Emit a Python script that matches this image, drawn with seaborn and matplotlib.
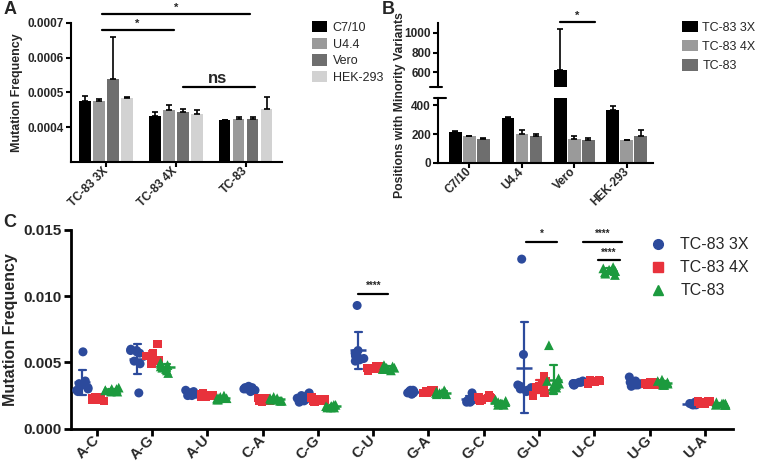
import numpy as np
import pandas as pd
import matplotlib
matplotlib.use("Agg")
import matplotlib.pyplot as plt
import seaborn as sns
from matplotlib.lines import Line2D
from matplotlib.patches import Patch

sns.set_theme(style="ticks")
plt.rcParams['font.family'] = ['Liberation Sans', 'DejaVu Sans']
plt.rcParams['font.weight'] = 'bold'

# ---------------- Panel A data ----------------
a_groups = ["TC-83 3X", "TC-83 4X", "TC-83"]
a_cells = ["C7/10", "U4.4", "Vero", "HEK-293"]
a_c710 = [0.000477, 0.000434, 0.000421]
a_u44 = [0.000476, 0.000450, 0.000425]
a_vero = [0.000539, 0.000444, 0.000425]
a_hek = [0.000484, 0.000438, 0.000454]
a_c710_top = [0.000490, 0.000443, 0.000422]
a_u44_top = [0.000481, 0.000465, 0.000431]
a_vero_top = [0.000659, 0.000452, 0.000431]
a_hek_top = [0.000488, 0.000450, 0.000487]
a_colors = ["#000000", "#9a9a9a", "#6e6e6e", "#d2d2d2"]

# ---------------- Panel B data ----------------
b_cells = ["C7/10", "U4.4", "Vero", "HEK-293"]
b_strains = ["TC-83 3X", "TC-83 4X", "TC-83"]
b_3x = [217, 313, 620, 370]
b_4x = [184, 200, 165, 158]
b_tc83 = [168, 188, 160, 190]
b_3x_top = [221, 315, 1037, 396]
b_4x_top = [189, 226, 184, 161]
b_tc83_top = [172, 202, 170, 226]
b_colors = ["#000000", "#9a9a9a", "#6e6e6e"]

# ---------------- Panel C data ----------------
c_muts = ["A-C", "A-G", "A-U", "C-A", "C-G", "C-U", "G-A", "G-C", "G-U", "U-C", "U-G", "U-A"]
c_strains = ["TC-83 3X", "TC-83 4X", "TC-83"]
c_3x = {
    "A-C": [0.0058, 0.0036, 0.0034, 0.0033, 0.0031, 0.0030, 0.0029, 0.0028],
    "A-G": [0.0060, 0.0059, 0.0059, 0.0058, 0.0057, 0.0051, 0.0049, 0.0027],
    "A-U": [0.0029, 0.0028, 0.0027, 0.0027, 0.0026, 0.0026, 0.0025, 0.0025],
    "C-A": [0.0032, 0.0031, 0.0031, 0.0030, 0.0030, 0.0029, 0.0029, 0.0028],
    "C-G": [0.0027, 0.0026, 0.0025, 0.0023, 0.0022, 0.0021, 0.0021, 0.0020],
    "C-U": [0.0093, 0.0059, 0.0057, 0.0055, 0.0054, 0.0053, 0.0052, 0.0051],
    "G-A": [0.0029, 0.0029, 0.0028, 0.0028, 0.0028, 0.0027, 0.0027, 0.0026],
    "G-C": [0.0027, 0.0025, 0.0023, 0.0022, 0.0021, 0.0021, 0.0020, 0.0020],
    "G-U": [0.0128, 0.0056, 0.0033, 0.0032, 0.0031, 0.0030, 0.0029, 0.0028],
    "U-C": [0.0036, 0.0035, 0.0035, 0.0034, 0.0034, 0.0034, 0.0033, 0.0033],
    "U-G": [0.0039, 0.0036, 0.0035, 0.0034, 0.0034, 0.0033, 0.0033, 0.0032],
    "U-A": [0.0020, 0.0020, 0.0019, 0.0019, 0.0019, 0.0018, 0.0018, 0.0018],
}
c_4x = {
    "A-C": [0.0024, 0.0024, 0.0023, 0.0023, 0.0022, 0.0022, 0.0022, 0.0021],
    "A-G": [0.0064, 0.0057, 0.0055, 0.0054, 0.0052, 0.0051, 0.0050, 0.0049],
    "A-U": [0.0027, 0.0026, 0.0026, 0.0025, 0.0025, 0.0024, 0.0024, 0.0024],
    "C-A": [0.0023, 0.0023, 0.0022, 0.0022, 0.0021, 0.0021, 0.0021, 0.0020],
    "C-G": [0.0024, 0.0023, 0.0023, 0.0022, 0.0022, 0.0021, 0.0021, 0.0020],
    "C-U": [0.0047, 0.0047, 0.0046, 0.0046, 0.0045, 0.0045, 0.0045, 0.0044],
    "G-A": [0.0029, 0.0029, 0.0028, 0.0028, 0.0028, 0.0027, 0.0027, 0.0027],
    "G-C": [0.0025, 0.0024, 0.0024, 0.0023, 0.0023, 0.0022, 0.0022, 0.0021],
    "G-U": [0.0040, 0.0036, 0.0034, 0.0032, 0.0031, 0.0030, 0.0027, 0.0025],
    "U-C": [0.0037, 0.0037, 0.0036, 0.0036, 0.0035, 0.0035, 0.0035, 0.0034],
    "U-G": [0.0035, 0.0035, 0.0034, 0.0034, 0.0034, 0.0033, 0.0033, 0.0033],
    "U-A": [0.0021, 0.0021, 0.0021, 0.0020, 0.0020, 0.0020, 0.0019, 0.0019],
}
c_tc83 = {
    "A-C": [0.0031, 0.0030, 0.0030, 0.0029, 0.0029, 0.0029, 0.0028, 0.0028],
    "A-G": [0.0050, 0.0049, 0.0048, 0.0047, 0.0046, 0.0045, 0.0044, 0.0042],
    "A-U": [0.0025, 0.0024, 0.0024, 0.0023, 0.0023, 0.0023, 0.0022, 0.0022],
    "C-A": [0.0024, 0.0023, 0.0023, 0.0022, 0.0022, 0.0022, 0.0021, 0.0021],
    "C-G": [0.0018, 0.0018, 0.0017, 0.0017, 0.0017, 0.0016, 0.0016, 0.0016],
    "C-U": [0.0048, 0.0047, 0.0047, 0.0046, 0.0046, 0.0045, 0.0045, 0.0044],
    "G-A": [0.0029, 0.0028, 0.0028, 0.0027, 0.0027, 0.0027, 0.0026, 0.0026],
    "G-C": [0.0022, 0.0021, 0.0020, 0.0020, 0.0019, 0.0019, 0.0018, 0.0018],
    "G-U": [0.0063, 0.0038, 0.0036, 0.0034, 0.0033, 0.0032, 0.0031, 0.0030],
    "U-C": [0.0122, 0.0121, 0.0120, 0.0119, 0.0119, 0.0118, 0.0117, 0.0116],
    "U-G": [0.0037, 0.0036, 0.0035, 0.0035, 0.0034, 0.0034, 0.0033, 0.0033],
    "U-A": [0.0020, 0.0019, 0.0019, 0.0019, 0.0018, 0.0018, 0.0018, 0.0018],
}
c_colors = ["#2c4a9c", "#e8323c", "#1c9a3e"]
c_markers = ["o", "s", "^"]
c_sizes = [6.5, 6.0, 7.0]

fig = plt.figure(figsize=(7.6, 4.7), dpi=100)

def style_axis(ax, lw, fs, ticklen):
    for s in ["top", "right"]:
        ax.spines[s].set_visible(False)
    for s in ["left", "bottom"]:
        ax.spines[s].set_linewidth(lw)
        ax.spines[s].set_color("black")
    ax.tick_params(axis="both", width=lw, length=ticklen, color="black",
                   labelsize=fs, pad=1.5)
    for lab in ax.get_xticklabels() + ax.get_yticklabels():
        lab.set_fontweight("bold")

# ================= Panel A =================
axA = fig.add_axes([0.0934, 0.6547, 0.2776, 0.297])
dfA = pd.DataFrame({
    "group": a_groups * 4,
    "cell": np.repeat(a_cells, 3),
    "val": a_c710 + a_u44 + a_vero + a_hek,
})
a_tops = [a_c710_top, a_u44_top, a_vero_top, a_hek_top]
sns.barplot(data=dfA, x="group", y="val", hue="cell", order=a_groups,
            hue_order=a_cells, palette=a_colors, errorbar=None, saturation=1,
            width=0.8, gap=0.17, legend=False, ax=axA, linewidth=0)
for cont, tops in zip(axA.containers, a_tops):
    for bar, top in zip(cont, tops):
        x = bar.get_x() + bar.get_width() / 2
        h = bar.get_height()
        axA.errorbar([x], [h], yerr=[[0], [top - h]], color="black",
                     capsize=2.5, elinewidth=1.2, capthick=1.2, zorder=3)
axA.set_ylim(0.0003, 0.0007)
axA.set_xlim(-0.5, 2.52)
axA.set_yticks([0.0004, 0.0005, 0.0006, 0.0007])
axA.set_yticklabels(["0.0004", "0.0005", "0.0006", "0.0007"])
axA.set_xlabel("")
axA.set_ylabel("Mutation Frequency", fontsize=9, fontweight="bold", labelpad=3)
style_axis(axA, 1.5, 8.5, 3.5)
plt.setp(axA.get_xticklabels(), rotation=45, ha="right", va="center",
         rotation_mode="anchor", fontsize=8.5)
# significance
axA.plot([-0.06, 2.06], [0.000724, 0.000724], color="black", lw=1.6, clip_on=False)
axA.text(1.0, 0.000727, "*", ha="center", va="bottom", fontsize=8, fontweight="bold")
axA.plot([-0.06, 0.97], [0.000678, 0.000678], color="black", lw=1.6, clip_on=False)
axA.text(0.45, 0.000681, "*", ha="center", va="bottom", fontsize=8, fontweight="bold")
axA.plot([1.1, 2.13], [0.000515, 0.000515], color="black", lw=1.6, clip_on=False)
axA.text(1.6, 0.00052, "ns", ha="center", va="bottom", fontsize=12, fontweight="bold")
hA = [Patch(facecolor=c, edgecolor="none") for c in a_colors]
legA = fig.legend(hA, a_cells, loc="upper left", bbox_to_anchor=(0.41, 0.955),
                  frameon=False, handlelength=1.25, handleheight=1.0,
                  labelspacing=0.3, handletextpad=0.45, borderaxespad=0,
                  borderpad=0, prop={"size": 9, "weight": "normal"})

# ================= Panel B =================
axBu = fig.add_axes([0.5763, 0.8149, 0.2829, 0.1362])
axBl = fig.add_axes([0.5763, 0.6532, 0.2829, 0.1383])
dfB = pd.DataFrame({
    "cell": b_cells * 3,
    "strain": np.repeat(b_strains, 4),
    "val": b_3x + b_4x + b_tc83,
})
b_tops = [b_3x_top, b_4x_top, b_tc83_top]
for ax in (axBu, axBl):
    sns.barplot(data=dfB, x="cell", y="val", hue="strain", order=b_cells,
                hue_order=b_strains, palette=b_colors, errorbar=None,
                saturation=1, width=0.8, gap=0.1, legend=False, ax=ax, linewidth=0)
    for cont, tops in zip(ax.containers, b_tops):
        for bar, top in zip(cont, tops):
            x = bar.get_x() + bar.get_width() / 2
            h = bar.get_height()
            ax.errorbar([x], [h], yerr=[[0], [top - h]], color="black",
                        capsize=2.5, elinewidth=1.2, capthick=1.2, zorder=3)
    ax.set_xlim(-0.6, 3.5)
    ax.set_xlabel("")
    ax.set_ylabel("")
axBu.set_ylim(450, 1100)
axBl.set_ylim(0, 450)
axBu.set_yticks([600, 800, 1000])
axBl.set_yticks([0, 200, 400])
style_axis(axBu, 1.5, 8.5, 3.5)
style_axis(axBl, 1.5, 8.5, 3.5)
axBu.spines["bottom"].set_visible(False)
axBu.tick_params(axis="x", bottom=False, labelbottom=False)
plt.setp(axBl.get_xticklabels(), rotation=45, ha="right", va="center",
         rotation_mode="anchor", fontsize=8.5)
axBu.plot([-0.035, 0.02], [0, 0], transform=axBu.transAxes, color="black",
          lw=1.5, clip_on=False)
axBl.plot([-0.02, 0.035], [1, 1], transform=axBl.transAxes, color="black",
          lw=1.5, clip_on=False)
vb0 = axBu.containers[0][2]
vb2 = axBu.containers[2][2]
x0 = vb0.get_x() + vb0.get_width() * 0.5
x1 = vb2.get_x() + vb2.get_width()
axBu.plot([x0, x1], [1110, 1110], color="black", lw=1.6, clip_on=False)
axBu.text((x0 + x1) / 2, 1125, "*", ha="center", va="bottom", fontsize=8,
          fontweight="bold")
fig.text(0.526, 0.776, "Positions with Minority Variants", rotation=90,
         ha="center", va="center", fontsize=8.8, fontweight="bold")
hB = [Patch(facecolor=c, edgecolor="none") for c in b_colors]
fig.legend(hB, b_strains, loc="upper left", bbox_to_anchor=(0.898, 0.955),
           frameon=False, handlelength=1.25, handleheight=1.0,
           labelspacing=0.5, handletextpad=0.35, borderaxespad=0, borderpad=0,
           prop={"size": 9, "weight": "normal"})

# ================= Panel C =================
axC = fig.add_axes([0.0934, 0.0879, 0.871, 0.4228])
rows = []
for s, d in zip(c_strains, [c_3x, c_4x, c_tc83]):
    for m in c_muts:
        for v in d[m]:
            rows.append((m, s, v))
dfC = pd.DataFrame(rows, columns=["mut", "strain", "val"])
pal = dict(zip(c_strains, c_colors))
np.random.seed(3)
for s, mk, sz in zip(c_strains, c_markers, c_sizes):
    sns.stripplot(data=dfC[dfC["strain"] == s], x="mut", y="val", hue="strain",
                  order=c_muts, hue_order=c_strains, palette=pal, dodge=True,
                  jitter=0.4, marker=mk, size=sz, linewidth=0, legend=False,
                  ax=axC)
sns.pointplot(data=dfC, x="mut", y="val", hue="strain", order=c_muts,
              hue_order=c_strains, palette=pal, dodge=0.5333, errorbar="sd",
              capsize=0.12, markers="_", linestyle="none", markersize=11,
              markeredgewidth=1.8, err_kws={"linewidth": 1.6}, legend=False,
              ax=axC)
axC.set_ylim(0, 0.015)
axC.set_xlim(-0.47, 11.51)
axC.set_yticks([0, 0.005, 0.010, 0.015])
axC.set_yticklabels(["0.000", "0.005", "0.010", "0.015"])
axC.set_xlabel("")
axC.set_ylabel("Mutation Frequency", fontsize=11.5, fontweight="bold", labelpad=4)
style_axis(axC, 2.0, 11, 5)
plt.setp(axC.get_xticklabels(), rotation=45, ha="right", va="center",
         rotation_mode="anchor", fontsize=10.5)
for (xa, xb, y, lab) in [(4.73, 5.27, 0.0102, "****"), (7.77, 8.33, 0.0141, "*"),
                         (8.8, 9.5, 0.0141, "****"), (9.06, 9.47, 0.0127, "****")]:
    axC.plot([xa, xb], [y, y], color="black", lw=1.6)
    axC.text((xa + xb) / 2, y + 0.0002, lab, ha="center", va="bottom",
             fontsize=7, fontweight="bold")
hC = [Line2D([], [], marker=mk, color=c, linestyle="none", markersize=7)
      for mk, c in zip(c_markers, c_colors)]
fig.legend(hC, c_strains, loc="upper left", bbox_to_anchor=(0.853, 0.495),
           frameon=False, handlelength=1.2, labelspacing=0.5, handletextpad=0.8,
           borderaxespad=0, borderpad=0, prop={"size": 11.5, "weight": "normal"})

# panel letters
fig.text(0.005, 0.997, "A", ha="left", va="top", fontsize=13, fontweight="bold")
fig.text(0.502, 0.997, "B", ha="left", va="top", fontsize=13, fontweight="bold")
fig.text(0.004, 0.545, "C", ha="left", va="top", fontsize=13, fontweight="bold")

fig.savefig("out.png", dpi=100)
